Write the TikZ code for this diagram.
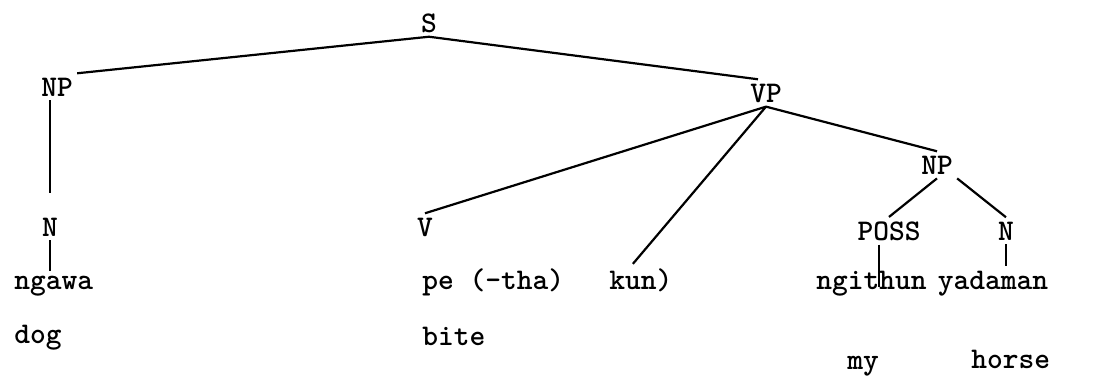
\documentclass[tikz,border=0pt]{standalone}
\usepackage{tikz}

\begin{document}
\begin{tikzpicture}[x=0.5pt,y=-0.5pt,
  cat/.style={font=\fontsize{15}{17}\selectfont\ttfamily\bfseries,inner sep=2pt,anchor=base},
  word/.style={font=\fontsize{15}{17}\selectfont\ttfamily\bfseries,inner sep=2pt,anchor=base west},
  branch/.style={line width=1.1pt}]
  \useasboundingbox (0,0) rectangle (1103,381);
  % category labels
  \node[cat] (S) at (429,32) {S};
  \node[cat] (NPl) at (57,96) {NP};
  \node[cat] (VP) at (766,102) {VP};
  \node[cat] (NPr) at (937,174) {NP};
  \node[cat] (Nl) at (50,236) {N};
  \node[cat] (V) at (425,236) {V};
  \node[cat] (POSS) at (889,240) {POSS};
  \node[cat] (Nr) at (1006,240) {N};
  % words and glosses
  \node[word] (ngawa) at (10,289) {ngawa};
  \node[word] (pe) at (418,289) {pe (-tha)};
  \node[word] (kun) at (605,289) {kun)};
  \node[word] (ngithun) at (812,289) {ngithun};
  \node[word,anchor=base] (yadaman) at (993,289) {yadaman};
  \node[word] (dog) at (10,343) {dog};
  \node[word] (bite) at (418,345) {bite};
  \node[word] (my) at (843,369) {my};
  \node[word] (horse) at (967,368) {horse};
  % branches
  \draw[branch] (S.south) -- (NPl.north east);
  \draw[branch] (S.south) -- ([xshift=-4pt]VP.north);
  \draw[branch,shorten >=10pt] (Nl.north |- NPl.south) -- (Nl.north);
  \draw[branch] (Nl.south) -- (Nl.south |- ngawa.north);
  \draw[branch] (VP.south) -- (V.north);
  \draw[branch] (VP.south) -- ([xshift=-4pt]kun.north);
  \draw[branch] (VP.south) -- (NPr.north);
  \draw[branch] (NPr.south) -- (POSS.north);
  \draw[branch] (NPr.south east) -- (Nr.north);
  \draw[branch] ([xshift=-5pt]POSS.south) -- ++(0,42);
  \draw[branch] (Nr.south) -- (Nr.south |- yadaman.north);
\end{tikzpicture}
\end{document}
